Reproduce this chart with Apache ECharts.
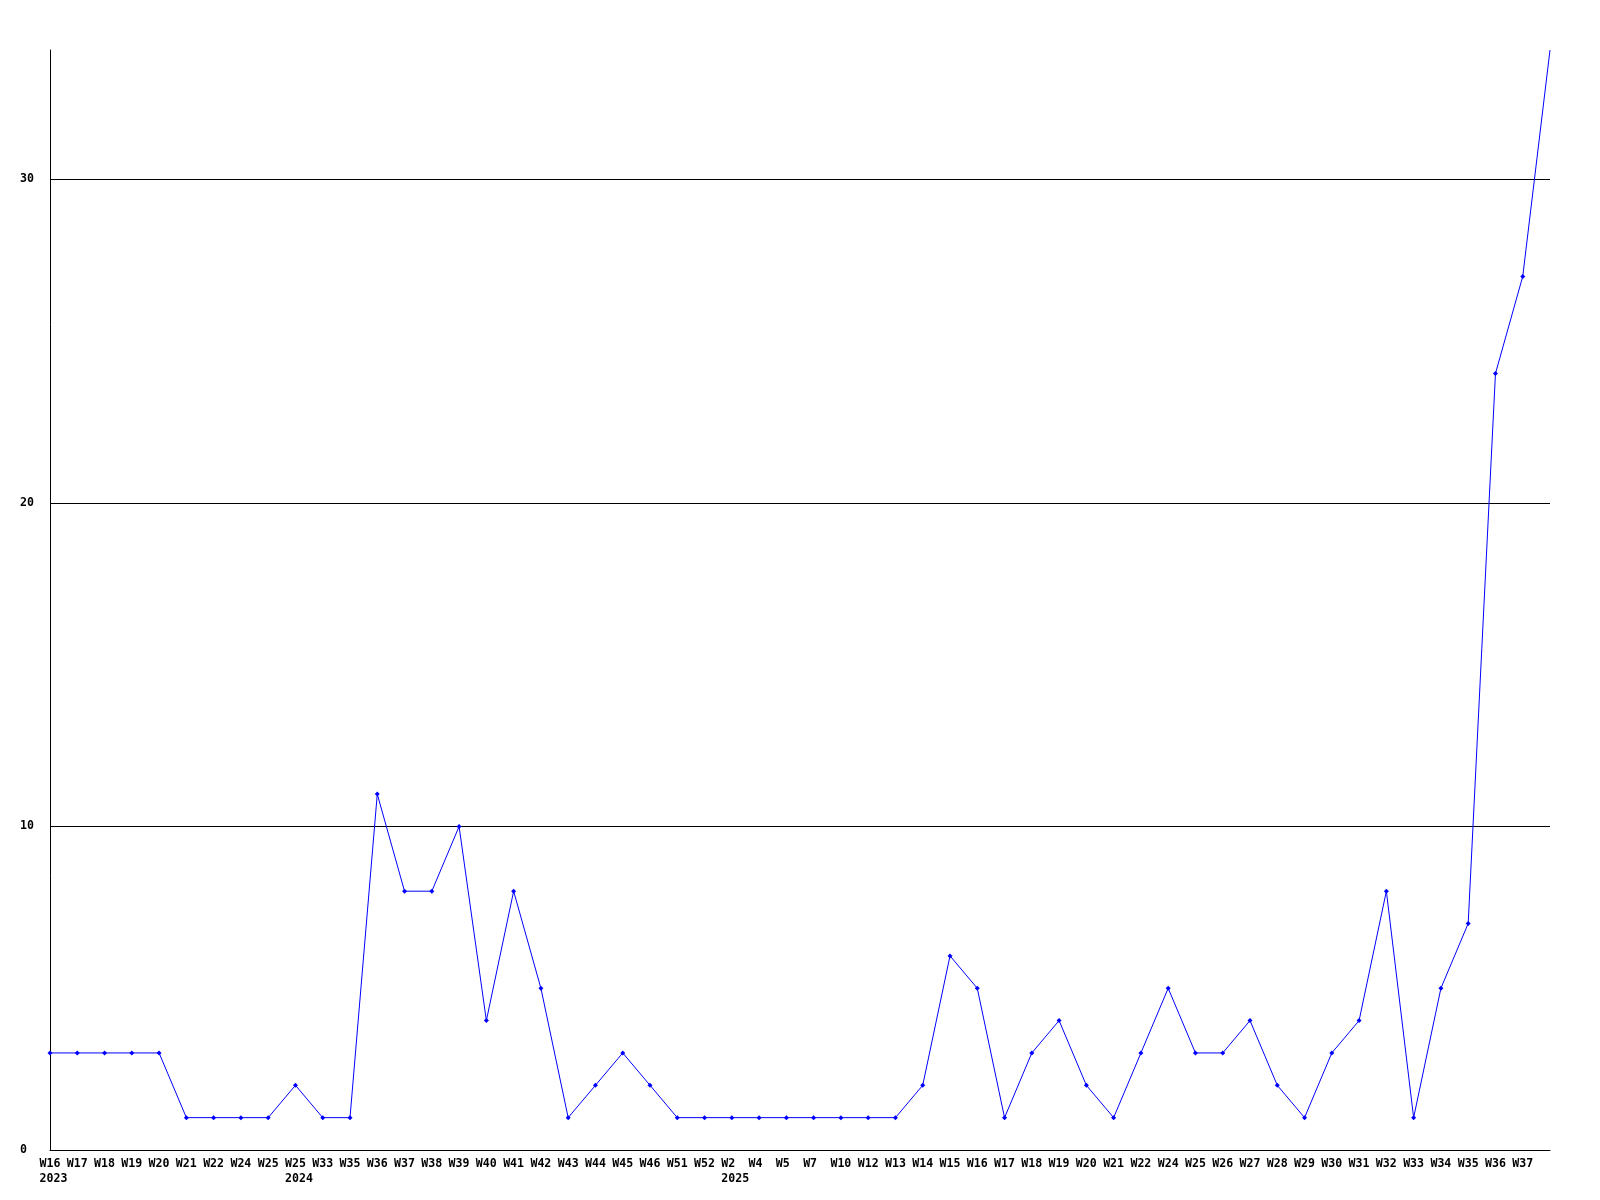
<!DOCTYPE html>
<html>
<head>
<meta charset="utf-8">
<script src="https://cdn.jsdelivr.net/npm/echarts@6/dist/echarts.min.js"></script>
<style>
  html, body { margin: 0; padding: 0; background: #fff; }
  #chart { width: 1600px; height: 1200px; }
</style>
</head>
<body>
<div id="chart"></div>
<script>
// week labels along the x axis (last point has no label)
const weeks = [
  "W16", "W17", "W18", "W19", "W20", "W21", "W22", "W24", "W25",
  "W25", "W33", "W35", "W36", "W37", "W38", "W39", "W40", "W41", "W42",
  "W43", "W44", "W45", "W46", "W51", "W52",
  "W2", "W4", "W5", "W7", "W10", "W12", "W13", "W14", "W15", "W16",
  "W17", "W18", "W19", "W20", "W21", "W22", "W24", "W25", "W26", "W27",
  "W28", "W29", "W30", "W31", "W32", "W33", "W34", "W35", "W36", "W37", ""
];
// year shown under the first week of each year
const years = { 0: "2023", 9: "2024", 25: "2025" };
const counts = [
  3, 3, 3, 3, 3, 1, 1, 1, 1,
  2, 1, 1, 11, 8, 8, 10, 4, 8, 5,
  1, 2, 3, 2, 1, 1,
  1, 1, 1, 1, 1, 1, 1, 2, 6, 5,
  1, 3, 4, 2, 1, 3, 5, 3, 3, 4,
  2, 1, 3, 4, 8, 1, 5, 7, 24, 27, 34
];
const yTicks = { min: 0, max: 34, step: 10 };

const font = "DejaVu Sans Mono";
const charW = 7;
const txt = { fontFamily: font, fontWeight: "bold", fontSize: 11.6, lineHeight: 15, color: "#000" };

// the last point sits in the corner and has no marker
const lineData = counts.map((v, i) => i === counts.length - 1 ? { value: v, symbol: "none" } : v);

const chart = echarts.init(document.getElementById("chart"));
chart.setOption({
  animation: false,
  backgroundColor: "#fff",
  grid: { left: 50, right: 50, top: 50, bottom: 50 },
  xAxis: {
    type: "category",
    data: weeks,
    boundaryGap: false,
    axisLine: { lineStyle: { color: "#000", width: 1 } },
    axisTick: { show: false },
    splitLine: { show: false },
    axisLabel: Object.assign({
      interval: 0,
      margin: 6,
      formatter: (val, idx) => {
        let s = "{w|" + val + "}";
        if (years[idx]) s += "\n{w|" + years[idx] + "}";
        return s;
      },
      rich: {
        // fixed-width box so every label starts 1.5 chars left of its point
        w: Object.assign({ align: "left", width: 3 * charW }, txt)
      }
    }, txt)
  },
  yAxis: {
    type: "value",
    min: yTicks.min,
    max: yTicks.max,
    interval: yTicks.step,
    axisLine: { show: true, lineStyle: { color: "#000", width: 1 } },
    axisTick: { show: false },
    splitLine: { show: true, showMaxLine: false, lineStyle: { color: "#000", width: 1 } },
    axisLabel: Object.assign({
      showMaxLabel: false,
      align: "left",
      margin: 30
    }, txt)
  },
  series: [{
    type: "line",
    data: lineData,
    symbol: "diamond",
    symbolSize: 5,
    showAllSymbol: true,
    lineStyle: { color: "#0000ff", width: 1 },
    itemStyle: { color: "#0000ff" }
  }]
});
</script>
</body>
</html>
